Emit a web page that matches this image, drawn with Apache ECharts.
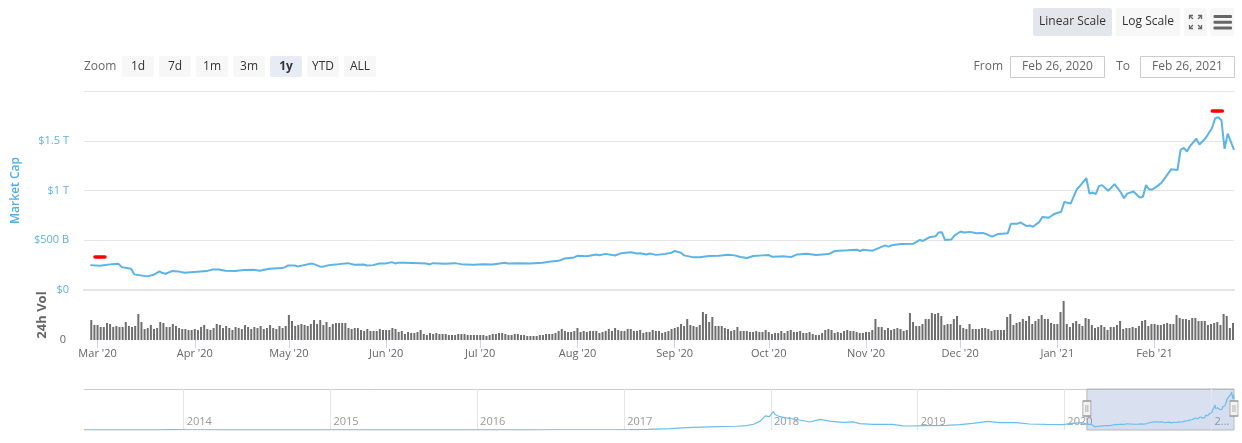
<!DOCTYPE html>
<html>
<head>
<meta charset="utf-8">
<script src="https://cdn.jsdelivr.net/npm/echarts@6/dist/echarts.min.js"></script>
<style>
html,body{margin:0;padding:0;background:#fff;}
#chart{width:1242px;height:443px;}
</style>
</head>
<body>
<div id="chart"></div>
<script>
// ---------- DATA ----------
const rangeStart = '2020-02-26';
const rangeEnd = '2021-02-26';

// Market cap (billions USD)
const mcapDates = [
'2020-02-28','2020-03-02','2020-03-06','2020-03-08','2020-03-09','2020-03-12','2020-03-13','2020-03-17','2020-03-19','2020-03-21',
'2020-03-22','2020-03-23','2020-03-25','2020-03-27','2020-03-29','2020-04-02','2020-04-05','2020-04-07','2020-04-09','2020-04-11',
'2020-04-14','2020-04-17','2020-04-20','2020-04-22','2020-04-23','2020-04-25','2020-04-29','2020-04-30','2020-05-01','2020-05-03',
'2020-05-04','2020-05-06','2020-05-08','2020-05-09','2020-05-11','2020-05-12','2020-05-14','2020-05-16','2020-05-17','2020-05-20',
'2020-05-22','2020-05-25','2020-05-26','2020-05-28','2020-05-30','2020-06-01','2020-06-03','2020-06-04','2020-06-05','2020-06-07',
'2020-06-12','2020-06-14','2020-06-15','2020-06-16','2020-06-20','2020-06-23','2020-06-25','2020-06-29','2020-07-02','2020-07-05',
'2020-07-09','2020-07-10','2020-07-13','2020-07-17','2020-07-21','2020-07-23','2020-07-26','2020-07-28','2020-07-31','2020-08-01',
'2020-08-04','2020-08-07','2020-08-08','2020-08-10','2020-08-13','2020-08-15','2020-08-18','2020-08-20','2020-08-21','2020-08-23',
'2020-08-24','2020-08-26','2020-08-29','2020-08-31','2020-09-01','2020-09-03','2020-09-04','2020-09-07','2020-09-09','2020-09-12',
'2020-09-15','2020-09-18','2020-09-20','2020-09-22','2020-09-24','2020-09-26','2020-09-29','2020-10-01','2020-10-02','2020-10-06',
'2020-10-08','2020-10-10','2020-10-13','2020-10-16','2020-10-20','2020-10-22','2020-10-26','2020-10-29','2020-10-30','2020-10-31',
'2020-11-03','2020-11-06','2020-11-07','2020-11-08','2020-11-09','2020-11-12','2020-11-16','2020-11-18','2020-11-19','2020-11-21',
'2020-11-23','2020-11-24','2020-11-25','2020-11-26','2020-11-28','2020-11-29','2020-12-01','2020-12-02','2020-12-04','2020-12-06',
'2020-12-08','2020-12-09','2020-12-11','2020-12-13','2020-12-16','2020-12-17','2020-12-19','2020-12-20','2020-12-22','2020-12-23',
'2020-12-24','2020-12-26','2020-12-27','2020-12-29','2020-12-31','2021-01-02','2021-01-03','2021-01-05','2021-01-07','2021-01-08',
'2021-01-10','2021-01-11','2021-01-12','2021-01-13','2021-01-14','2021-01-15','2021-01-17','2021-01-19','2021-01-21','2021-01-22',
'2021-01-23','2021-01-25','2021-01-27','2021-01-28','2021-01-29','2021-01-30','2021-01-31','2021-02-02','2021-02-03','2021-02-06',
'2021-02-08','2021-02-09','2021-02-10','2021-02-11','2021-02-12','2021-02-14','2021-02-15','2021-02-17','2021-02-18','2021-02-19',
'2021-02-20','2021-02-21','2021-02-22','2021-02-23','2021-02-24','2021-02-26'
];
const mcapValues = [
250,243,260,263,230,213,157,137,150,187,
170,163,190,187,173,183,190,207,207,193,
190,200,203,193,200,213,220,230,247,247,
237,250,263,263,237,233,250,257,260,270,
253,257,247,250,267,267,280,267,273,273,
270,267,257,270,263,270,260,253,260,257,
273,267,270,267,273,283,293,317,327,343,
340,357,350,363,347,370,380,367,370,357,
367,353,363,375,392,375,348,328,328,341,
345,355,348,331,321,341,348,351,334,338,
331,358,365,351,361,392,399,405,392,405,
395,436,449,436,449,463,466,503,493,530,
540,578,581,503,507,547,588,578,584,571,
574,564,537,564,571,665,665,679,642,649,
635,682,733,726,767,787,885,868,1013,1047,
1125,969,980,963,1044,1054,997,1064,980,922,
969,990,929,936,1054,1010,1010,1054,1081,1213,
1206,1409,1429,1392,1446,1520,1463,1527,1578,1628,
1726,1736,1706,1419,1571,1409
];

// 24h volume (relative units, one bar per day starting at volStart)
const volStart = '2020-02-28';
const volumes = [
60,45,45,39,39,51,48,39,42,39, 39,54,42,39,42,78,54,33,36,45,
33,36,54,51,39,39,48,42,36,33, 33,30,30,33,30,39,45,33,30,36,
48,45,36,42,36,30,39,36,33,45, 39,33,39,36,42,33,36,45,36,33,
42,36,42,75,57,42,45,48,45,42, 48,60,48,60,45,54,39,48,51,51,
51,51,36,33,36,36,30,27,33,27, 27,27,33,30,
30,30,36,33,24,27,18,24,21,21, 24,30,18,15,21,18,21,18,18,18,
15,15,15,18,18,18,15,15,15,15, 15,15,12,15,18,18,21,21,
18,15,15,18,18,15,15,12,12,12, 12,15,15,18,18,18,21,27,33,27,
24,24,27,36,24,27,24,27,27,27, 21,24,27,33,27,36,30,27,27,33,
33,27,27,30,21,24,24,30,27,27, 21,24,27,33,
36,39,48,42,63,45,42,39,45, 84,78,54,69,42,42,42,36,33,27,
30,39,27,27,27,24,24,27,24, 24,30,24,18,21,21,27,21,27,30,
24,24,27,21,21,24,18,15,15,21, 30,33,30,21,24,21,27,30,27,27,
24,21,21,24,24,30,63,39,39,30, 36,30,33,36,33,27,30,81,54,42,
42,48,63,63,81,78,81,72,45,48, 48,63,72,45,36,33,
48,33,33,33,36,36,33,27,30,30, 30,30,69,78,45,51,54,63,57,72,
48,57,63,75,63,63,51,48,48,84, 117,48,39,51,57,48,42,66,63,45,
36,39,45,39,30,39,39,45,57,33, 36,36,39,36,42,57,60,42,48,48,
45,45,48,51,48,48,75,66,63,63, 60,66,66,57,57,57,45,48,51,54,
45,78,72,36,51
];

// Navigator history before the selected range (billions USD)
const navDates = [
'2013-04-28','2013-08-01','2013-11-01','2013-12-04','2014-01-15','2014-04-15','2014-07-15','2014-10-15','2015-01-15','2015-05-01',
'2015-08-01','2015-11-01','2016-01-15','2016-05-01','2016-08-01','2016-11-01','2017-01-15','2017-03-01','2017-04-26','2017-06-05',
'2017-08-19','2017-10-08','2017-11-02','2017-11-19','2017-12-05','2017-12-18','2017-12-28','2018-01-07','2018-01-11','2018-01-23',
'2018-02-17','2018-03-14','2018-04-08','2018-05-03','2018-05-27','2018-06-29','2018-07-24','2018-08-10','2018-09-12','2018-10-31',
'2018-11-25','2018-12-12','2019-01-22','2019-03-13','2019-04-15','2019-05-18','2019-06-24','2019-07-23','2019-09-03','2019-10-06',
'2019-11-16','2019-12-27','2020-01-21','2020-02-15'
];
const navValues = [
1.5,1.3,3,14,11,6,8,5,3,3.5,
4.5,5,7,8,11,12,17,25,60,110,
150,170,200,260,400,640,600,830,700,600,
520,450,360,480,400,340,370,290,250,250,
190,180,195,210,240,300,390,330,330,270,
250,240,300,330
];
const navYears = ['2014-01-01','2015-01-01','2016-01-01','2017-01-01','2018-01-01','2019-01-01','2020-01-01','2021-01-01'];

// Axis ticks
const yTickValues = [0, 500, 1000, 1500, 2000];
const yTickLabels = ['$0', '$500 B', '$1 T', '$1.5 T', ''];

// Red annotation strokes
const redMarkFrom = ['2020-02-29T12:00:00Z', '2021-02-19T02:00:00Z'];
const redMarkTo = ['2020-03-03T16:00:00Z', '2021-02-22T07:00:00Z'];
const redMarkValue = [337, 1803];

// Toolbar texts
const zoomButtons = ['1d', '7d', '1m', '3m', '1y', 'YTD', 'ALL'];
const selectedZoom = '1y';
const fromText = 'Feb 26, 2020';
const toText = 'Feb 26, 2021';

// ---------- BUILD ----------
const DAY = 86400000;
const ts = s => new Date(s.length === 10 ? s + 'T00:00:00Z' : s).getTime();
const t0 = ts(rangeStart), t1 = ts(rangeEnd);
const mcapData = mcapDates.map((d, i) => [ts(d), mcapValues[i]]);
const vs = ts(volStart);
const volData = volumes.map((v, i) => [vs + i * DAY, v]);
const navData = navDates.map((d, i) => [ts(d), navValues[i]]).concat(mcapData);
const labelMap = {};
yTickValues.forEach((v, i) => labelMap[v] = yTickLabels[i]);

const FONT = '"Open Sans", "DejaVu Sans", sans-serif';
const blue = '#5cb3e6';

const graphics = [];
graphics.push({type: 'text', style: {text: 'Zoom', x: 84, y: 67, fill: '#666', font: '12px ' + FONT, align: 'left', verticalAlign: 'middle'}});
zoomButtons.forEach((b, i) => {
  const x = 122 + 37 * i;
  const sel = b === selectedZoom;
  graphics.push({type: 'rect', shape: {x: x, y: 56, width: 32, height: 21, r: 2}, style: {fill: sel ? '#e6ebf5' : '#f7f7f7'}});
  graphics.push({type: 'text', style: {text: b, x: x + 16, y: 66.5, fill: '#333', font: (sel ? 'bold ' : '') + '12px ' + FONT, align: 'center', verticalAlign: 'middle'}});
});
graphics.push({type: 'text', style: {text: 'From', x: 1003, y: 66.5, fill: '#666', font: '12px ' + FONT, align: 'right', verticalAlign: 'middle'}});
graphics.push({type: 'rect', shape: {x: 1010.5, y: 56.5, width: 94, height: 21}, style: {fill: '#fff', stroke: '#ccc', lineWidth: 1}});
graphics.push({type: 'text', style: {text: fromText, x: 1057.5, y: 67, fill: '#666', font: '12px ' + FONT, align: 'center', verticalAlign: 'middle'}});
graphics.push({type: 'text', style: {text: 'To', x: 1130, y: 66.5, fill: '#666', font: '12px ' + FONT, align: 'right', verticalAlign: 'middle'}});
graphics.push({type: 'rect', shape: {x: 1140.5, y: 56.5, width: 94, height: 21}, style: {fill: '#fff', stroke: '#ccc', lineWidth: 1}});
graphics.push({type: 'text', style: {text: toText, x: 1187.5, y: 67, fill: '#666', font: '12px ' + FONT, align: 'center', verticalAlign: 'middle'}});
// scale buttons
graphics.push({type: 'rect', shape: {x: 1033, y: 8, width: 79, height: 28, r: 2}, style: {fill: '#e3e7eb'}});
graphics.push({type: 'text', style: {text: 'Linear Scale', x: 1072.5, y: 22, fill: '#333', font: '12px ' + FONT, align: 'center', verticalAlign: 'middle'}});
graphics.push({type: 'rect', shape: {x: 1116, y: 8, width: 64, height: 28, r: 2}, style: {fill: '#f7f7f7'}});
graphics.push({type: 'text', style: {text: 'Log Scale', x: 1148, y: 22, fill: '#333', font: '12px ' + FONT, align: 'center', verticalAlign: 'middle'}});
graphics.push({type: 'rect', shape: {x: 1184, y: 8, width: 23, height: 28, r: 2}, style: {fill: '#f7f7f7'}});
graphics.push({type: 'rect', shape: {x: 1210, y: 8, width: 24, height: 28, r: 2}, style: {fill: '#f7f7f7'}});
// fullscreen icon: four outward corner arrows
[[1189.5, 15.5, 1, 1], [1201.5, 15.5, -1, 1], [1189.5, 28.5, 1, -1], [1201.5, 28.5, -1, -1]].forEach(c => {
  const [x, y, dx, dy] = c;
  graphics.push({type: 'polyline', shape: {points: [[x + 3.5 * dx, y], [x, y], [x, y + 3.5 * dy]]}, style: {stroke: '#666', lineWidth: 1.3, fill: null}});
  graphics.push({type: 'line', shape: {x1: x, y1: y, x2: x + 3.5 * dx, y2: y + 3.5 * dy}, style: {stroke: '#666', lineWidth: 1.3}});
});
// menu icon
[15, 20.7, 26.4].forEach(y => {
  graphics.push({type: 'rect', shape: {x: 1213.5, y: y, width: 18.5, height: 3, r: 1}, style: {fill: '#666'}});
});

const chart = echarts.init(document.getElementById('chart'), null, {renderer: 'canvas'});
const option = {
  animation: false,
  useUTC: true,
  textStyle: {fontFamily: FONT},
  graphic: graphics,
  grid: [
    {left: 84, right: 8, top: 91, height: 199},
    {left: 84, right: 8, top: 290, height: 50},
    {left: 84, right: 8, top: 389, height: 41}
  ],
  xAxis: [
    {type: 'time', gridIndex: 0, min: t0, max: t1,
     axisLine: {show: true, lineStyle: {color: '#e3e3e3', width: 2}},
     axisTick: {show: false}, axisLabel: {show: false}, splitLine: {show: false}},
    {type: 'time', gridIndex: 1, min: t0, max: t1,
     minInterval: 27 * DAY, maxInterval: 32 * DAY,
     axisLine: {show: false},
     axisTick: {show: true, length: 8, lineStyle: {color: '#ccd6eb'}},
     axisLabel: {show: true, color: '#666', fontSize: 11, margin: 8, formatter: "{MMM} '{yy}", hideOverlap: false},
     splitLine: {show: false}},
    {type: 'time', gridIndex: 2, min: ts('2013-04-28'), max: t1,
     minInterval: 300 * DAY, maxInterval: 400 * DAY,
     axisLine: {show: false}, axisTick: {show: false},
     axisLabel: {show: true, inside: true, align: 'left', color: '#999', fontSize: 11, margin: 3, padding: [0, 0, 0, 3],
       formatter: function (v) { const y = new Date(v).getUTCFullYear(); return y === 2021 ? '2...' : String(y); }},
     splitLine: {show: false}}
  ],
  yAxis: [
    {type: 'value', gridIndex: 0, min: 0, max: 2000, interval: 500,
     name: 'Market Cap', nameLocation: 'middle', nameGap: 62, nameRotate: 90,
     nameTextStyle: {color: '#4faee6', fontSize: 12, fontWeight: 600},
     axisLine: {show: false}, axisTick: {show: false},
     axisLabel: {color: blue, fontSize: 11, margin: 15, formatter: v => labelMap[v] !== undefined ? labelMap[v] : ''},
     splitLine: {lineStyle: {color: '#e6e6e6'}}},
    {type: 'value', gridIndex: 1, min: 0, max: 150, interval: 150,
     name: '24h Vol', nameLocation: 'middle', nameGap: 32, nameRotate: 90,
     nameTextStyle: {color: '#666', fontSize: 13, fontWeight: 'bold'},
     axisLine: {show: false}, axisTick: {show: false},
     axisLabel: {color: '#666', fontSize: 11, margin: 18, formatter: v => v === 0 ? '0' : ''},
     splitLine: {show: false}},
    {type: 'value', gridIndex: 2, min: 0, max: 1850, interval: 1850,
     axisLine: {show: false}, axisTick: {show: false}, axisLabel: {show: false},
     splitLine: {show: true, lineStyle: {color: ['transparent', '#cccccc']}}}
  ],
  series: [
    {type: 'line', xAxisIndex: 0, yAxisIndex: 0, data: mcapData, showSymbol: false, silent: true,
     lineStyle: {color: blue, width: 2}, itemStyle: {color: blue},
     markLine: {silent: true, symbol: ['none', 'none'], label: {show: false},
       lineStyle: {color: '#ff0000', width: 3.5, type: 'solid', cap: 'round'},
       emphasis: {disabled: true},
       data: redMarkFrom.map((f, i) => [{coord: [ts(f), redMarkValue[i]]}, {coord: [ts(redMarkTo[i]), redMarkValue[i]]}])}},
    {type: 'bar', xAxisIndex: 1, yAxisIndex: 1, data: volData, barWidth: 2, silent: true,
     itemStyle: {color: '#6e6e6e'}},
    {type: 'line', xAxisIndex: 2, yAxisIndex: 2, data: navData, showSymbol: false, silent: true, z: 3,
     lineStyle: {color: '#6dbdec', width: 1.2}, itemStyle: {color: '#6dbdec'},
     areaStyle: {color: 'rgba(109,189,236,0.06)'},
     markLine: {silent: true, symbol: ['none', 'none'], label: {show: false}, z: 1,
       lineStyle: {color: '#e6e6e6', width: 1, type: 'solid'},
       emphasis: {disabled: true},
       data: navYears.map(y => ({xAxis: ts(y)}))},
     markArea: {silent: true,
       itemStyle: {color: 'rgba(102,133,194,0.25)', borderColor: '#b8b8b8', borderWidth: 1},
       data: [[{xAxis: t0}, {xAxis: t1}]]},
     markPoint: {silent: true, label: {show: false},
       symbol: 'path://M0,0H8V15H0Z M3,4V11 M5,4V11', symbolSize: [8, 15], symbolKeepAspect: false,
       itemStyle: {color: '#f2f2f2', borderColor: '#999', borderWidth: 1},
       data: [{coord: [t0, 970]}, {coord: [t1, 970]}]}}
  ]
};
chart.setOption(option);
</script>
</body>
</html>
